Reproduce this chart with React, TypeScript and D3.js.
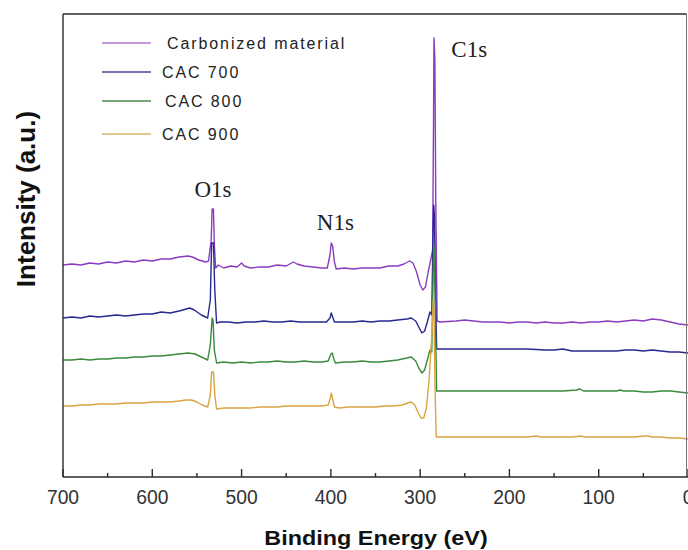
import React from "react";
import * as d3 from "d3";

// Binding energy (eV) / intensity (a.u.) pairs
const carbonized: [number, number][] = [
  [700, 212], [690, 213], [680, 212], [670, 214], [660, 213], [650, 215], [640, 214], [630, 216],
  [620, 215], [610, 217], [600, 216], [590, 218], [580, 218], [570, 220], [560, 221], [555, 220],
  [548, 217], [540, 215], [537, 216], [534, 237], [533, 268], [531.5, 268], [530.5, 232], [529, 209],
  [526, 212], [520, 209], [512, 211], [505, 210], [500, 214], [497, 211], [490, 209], [480, 210],
  [470, 210], [460, 212], [450, 211], [442, 215], [438, 213], [430, 211], [420, 210], [410, 209],
  [404, 209], [401, 222], [399.5, 234], [398, 231], [396, 215], [394, 208], [385, 209], [375, 208],
  [365, 209], [355, 209], [345, 209], [335, 211], [325, 211], [318, 213], [312, 216], [308, 214],
  [304, 205], [300, 192], [297, 187], [294, 190], [291, 205], [288, 218], [286, 227], [285, 357],
  [284.5, 439], [283.5, 417], [282.5, 277], [281, 156], [278, 155], [260, 156], [250, 157], [240, 156],
  [230, 155], [220, 155], [210, 155], [200, 154], [190, 155], [180, 155], [170, 154], [160, 155],
  [150, 154], [140, 154], [130, 155], [120, 154], [110, 155], [100, 155], [90, 156], [80, 155],
  [70, 156], [60, 157], [50, 156], [40, 158], [30, 157], [20, 155], [10, 153], [0, 152],
];

const cac700: [number, number][] = [
  [700, 159], [690, 160], [680, 159], [670, 161], [660, 160], [650, 161], [640, 162], [630, 161],
  [620, 162], [610, 163], [600, 163], [590, 165], [580, 164], [570, 166], [562, 168], [558, 169],
  [553, 167], [545, 162], [538, 159], [535, 177], [533.5, 234], [531.5, 234], [530, 187], [528, 154],
  [524, 155], [515, 155], [505, 154], [495, 155], [485, 155], [475, 156], [465, 155], [455, 155],
  [445, 156], [435, 155], [425, 155], [415, 155], [405, 155], [401, 159], [399.5, 164], [398, 160],
  [396, 155], [385, 155], [375, 155], [365, 156], [355, 155], [345, 156], [335, 156], [325, 157],
  [315, 158], [310, 159], [305, 156], [301, 149], [298, 144], [295, 146], [292, 155], [289, 165],
  [287, 162], [285.5, 247], [284.8, 272], [284, 262], [283, 197], [281.5, 128], [278, 128], [260, 128],
  [240, 128], [220, 128], [200, 128], [180, 128], [160, 127], [150, 127], [140, 128], [130, 126],
  [120, 126], [110, 126], [100, 126], [90, 126], [80, 126], [70, 127], [60, 127], [50, 126],
  [40, 127], [30, 126], [20, 125], [10, 125], [0, 124],
];

const cac800: [number, number][] = [
  [700, 117], [690, 117], [680, 118], [670, 117], [660, 118], [650, 118], [640, 119], [630, 119],
  [620, 120], [610, 120], [600, 121], [590, 121], [580, 122], [570, 123], [560, 124], [552, 123],
  [545, 120], [538, 117], [535, 132], [533, 159], [532, 157], [530.5, 127], [528, 114], [520, 115],
  [510, 114], [500, 115], [490, 114], [480, 115], [470, 115], [460, 116], [450, 115], [440, 115],
  [430, 116], [420, 115], [410, 115], [403, 116], [400, 123], [398.5, 124], [397, 119], [395, 114],
  [385, 115], [375, 115], [365, 116], [355, 115], [345, 115], [335, 116], [325, 117], [315, 119],
  [310, 120], [305, 116], [301, 108], [298, 104], [295, 107], [292, 117], [289, 127], [287, 125],
  [285.5, 197], [284.8, 232], [284, 227], [283, 157], [281.5, 86], [278, 86], [260, 86], [240, 86],
  [220, 86], [200, 86], [180, 86], [160, 86], [140, 86], [125, 87], [121, 88], [117, 86],
  [110, 86], [95, 86], [80, 86], [76, 87], [72, 86], [60, 86], [50, 85], [40, 85],
  [30, 86], [20, 86], [10, 85], [0, 84],
];

const cac900: [number, number][] = [
  [700, 71], [690, 71], [680, 72], [670, 72], [660, 73], [650, 73], [640, 73], [630, 74],
  [620, 74], [610, 74], [600, 75], [590, 75], [580, 75], [570, 76], [562, 77], [556, 77],
  [550, 75], [544, 72], [538, 70], [535, 82], [533.5, 105], [531.5, 105], [530, 82], [528, 68],
  [520, 69], [510, 69], [500, 69], [490, 69], [480, 70], [470, 70], [460, 70], [450, 71],
  [440, 71], [430, 71], [420, 71], [410, 71], [403, 72], [400.5, 79], [399.5, 84], [398, 78],
  [396, 70], [390, 69], [380, 70], [370, 70], [360, 70], [350, 70], [340, 71], [330, 71],
  [320, 72], [314, 74], [310, 75], [306, 72], [302, 64], [299, 59], [296, 59], [293, 69],
  [290, 97], [288, 127], [286.5, 147], [285.5, 177], [284.5, 167], [283.5, 97], [282, 40], [278, 40],
  [260, 40], [240, 40], [220, 40], [200, 40], [180, 40], [170, 41], [165, 40], [150, 40],
  [130, 40], [120, 41], [115, 40], [100, 40], [80, 40], [60, 40], [50, 41], [45, 41],
  [40, 40], [30, 40], [20, 39], [10, 39], [0, 38],
];

const seriesNames = ["Carbonized material", "CAC 700", "CAC 800", "CAC 900"];
const seriesData = [carbonized, cac700, cac800, cac900];
const seriesColors = ["#8a3cc0", "#28288e", "#3a8a3a", "#d9a441"];
const legendColors = ["#b276d2", "#46469a", "#4a8a4a", "#d8b46a"];

const majorTicks = [700, 600, 500, 400, 300, 200, 100, 0];
const minorTicks = [650, 550, 450, 350, 250, 150, 50];

const peakLabels = [
  { text: "O1s", energy: 532, value: 280 },
  { text: "N1s", energy: 395, value: 247 },
  { text: "C1s", energy: 245, value: 420 },
];

const W = 688;
const H = 550;
const left = 63;
const right = 688;
const top = 14;
const bottom = 477;

export default function App() {
  const x = d3.scaleLinear().domain([700, 0]).range([left, right]);
  const y = d3.scaleLinear().domain([0, 463]).range([bottom, top]);
  const line = d3
    .line<[number, number]>()
    .x((d) => x(d[0]))
    .y((d) => y(d[1]));

  const axisColor = "#2a2a2a";
  const sans = "'Liberation Sans', Arial, sans-serif";

  return (
    <svg
      width={W}
      height={H}
      style={{ position: "absolute", left: 0, top: 0, background: "#fff" }}
    >
      <rect x={0} y={0} width={W} height={H} fill="#fff" />
      <defs>
        <clipPath id="plotClip">
          <rect x={left} y={top} width={right - left} height={bottom - top} />
        </clipPath>
      </defs>

      <g clipPath="url(#plotClip)">
        {seriesData.map((d, i) => (
          <path
            key={seriesNames[i]}
            d={line(d) || ""}
            fill="none"
            stroke={seriesColors[i]}
            strokeWidth={1.4}
            strokeLinejoin="round"
          />
        ))}
      </g>

      {/* frame */}
      <line x1={left} x2={left} y1={top} y2={bottom} stroke={axisColor} strokeWidth={1.4} />
      <line x1={left} x2={686.5} y1={top} y2={top} stroke={axisColor} strokeWidth={1.4} />
      <line x1={686.5} x2={686.5} y1={top} y2={bottom} stroke="#777" strokeWidth={1} />
      <line x1={left} x2={right} y1={bottom} y2={bottom} stroke={axisColor} strokeWidth={1.6} />

      {majorTicks.map((t) => (
        <line key={"M" + t} x1={x(t)} x2={x(t)} y1={bottom} y2={bottom - 8} stroke={axisColor} strokeWidth={1.4} />
      ))}
      {minorTicks.map((t) => (
        <line key={"m" + t} x1={x(t)} x2={x(t)} y1={bottom} y2={bottom - 4} stroke={axisColor} strokeWidth={1.4} />
      ))}
      {majorTicks.map((t) => (
        <text
          key={"l" + t}
          transform={`translate(${x(t)},504) scale(0.92,1)`}
          textAnchor="middle"
          fontFamily={sans}
          fontSize={21}
          fill="#333"
        >
          {t}
        </text>
      ))}

      <text
        transform="translate(376,545) scale(1.17,1)"
        textAnchor="middle"
        fontFamily={sans}
        fontWeight="bold"
        fontSize={20}
        fill="#111"
      >
        Binding Energy (eV)
      </text>
      <text
        transform="translate(35,199) rotate(-90)"
        textAnchor="middle"
        fontFamily={sans}
        fontWeight="bold"
        fontSize={26}
        fill="#111"
      >
        Intensity (a.u.)
      </text>

      {peakLabels.map((p) => (
        <text
          key={p.text}
          x={x(p.energy)}
          y={y(p.value)}
          textAnchor="middle"
          fontFamily="'Liberation Serif', 'DejaVu Serif', serif"
          fontSize={23}
          fill="#222"
        >
          {p.text}
        </text>
      ))}

      {seriesNames.map((n, i) => {
        const ly = [43, 72, 101, 134][i];
        const tx = [167, 162, 165, 162][i];
        return (
          <g key={"lg" + n}>
            <line x1={102} x2={151} y1={ly} y2={ly} stroke={legendColors[i]} strokeWidth={1.5} />
            <text
              x={tx}
              y={ly + 6}
              fontFamily={sans}
              fontSize={16}
              letterSpacing={1.9}
              fill="#222"
            >
              {n}
            </text>
          </g>
        );
      })}
    </svg>
  );
}
